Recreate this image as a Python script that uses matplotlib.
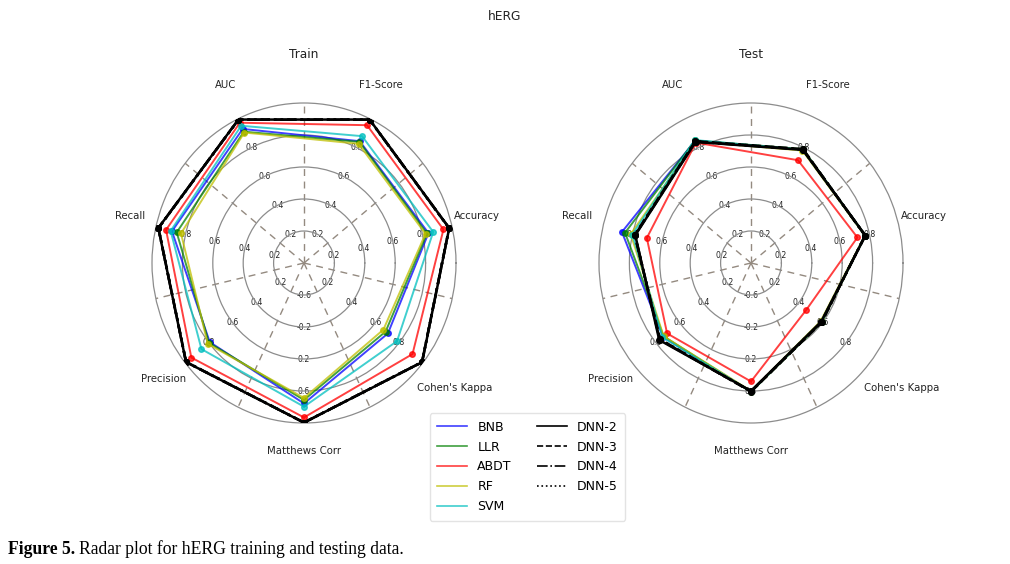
import numpy as np
import matplotlib
matplotlib.use("Agg")
import matplotlib.pyplot as plt

# ---------------- data ----------------
metrics = ["Matthews Corr", "Cohen's Kappa", "Accuracy", "F1-Score", "AUC", "Recall", "Precision"]
metric_min = [-1.0, 0.0, 0.0, 0.0, 0.0, 0.0, 0.0]
metric_max = [1.0, 1.0, 1.0, 1.0, 1.0, 1.0, 1.0]

models = ["BNB", "LLR", "ABDT", "RF", "SVM", "DNN-2", "DNN-3", "DNN-4", "DNN-5"]

# value order follows `metrics`
train_bnb = [0.756, 0.706, 0.840, 0.845, 0.930, 0.891, 0.793]
train_llr = [0.712, 0.687, 0.830, 0.840, 0.911, 0.859, 0.800]
train_abdt = [0.931, 0.913, 0.941, 0.956, 0.973, 0.931, 0.948]
train_rf = [0.687, 0.668, 0.820, 0.827, 0.905, 0.830, 0.810]
train_svm = [0.796, 0.783, 0.872, 0.880, 0.952, 0.900, 0.863]
train_dnn2 = [0.995, 0.994, 0.980, 0.995, 0.995, 0.983, 0.993]
train_dnn3 = [0.994, 0.993, 0.979, 0.994, 0.995, 0.982, 0.992]
train_dnn4 = [0.995, 0.993, 0.980, 0.994, 0.994, 0.983, 0.993]
train_dnn5 = [0.994, 0.994, 0.979, 0.995, 0.994, 0.982, 0.992]

test_bnb = [0.605, 0.590, 0.770, 0.785, 0.848, 0.871, 0.740]
test_llr = [0.612, 0.595, 0.772, 0.790, 0.850, 0.850, 0.735]
test_abdt = [0.481, 0.467, 0.718, 0.713, 0.835, 0.703, 0.706]
test_rf = [0.600, 0.585, 0.768, 0.780, 0.843, 0.812, 0.735]
test_svm = [0.605, 0.590, 0.770, 0.785, 0.853, 0.800, 0.745]
test_dnn2 = [0.600, 0.590, 0.772, 0.785, 0.840, 0.781, 0.772]
test_dnn3 = [0.608, 0.595, 0.770, 0.790, 0.845, 0.785, 0.765]
test_dnn4 = [0.603, 0.592, 0.771, 0.787, 0.842, 0.783, 0.768]
test_dnn5 = [0.606, 0.593, 0.770, 0.788, 0.844, 0.784, 0.766]

train_values = [train_bnb, train_llr, train_abdt, train_rf, train_svm,
                train_dnn2, train_dnn3, train_dnn4, train_dnn5]
test_values = [test_bnb, test_llr, test_abdt, test_rf, test_svm,
               test_dnn2, test_dnn3, test_dnn4, test_dnn5]

# ---------------- style ----------------
colors = ["b", "g", "r", "y", "c", "k", "k", "k", "k"]
styles = ["-", "-", "-", "-", "-", "-", "--", "-.", ":"]
widths = [1.4, 1.4, 1.4, 1.4, 1.4, 1.8, 1.8, 1.8, 1.8]
alphas = [0.75, 0.75, 0.75, 0.75, 0.75, 1.0, 1.0, 1.0, 1.0]

n = len(metrics)
base_deg = (270.0 + np.arange(n) * 360.0 / n) % 360.0
theta = np.deg2rad(base_deg)
# name-label placement (angle nudge in degrees, radius in axis units)
name_dtheta = [0.0, 0.4, 1.6, 1.2, -0.9, -1.5, -0.4]
name_r = [1.175, 1.264, 1.175, 1.222, 1.225, 1.182, 1.172]
levels = [0.2, 0.4, 0.6, 0.8]

W, H = 1010, 564
fig = plt.figure(figsize=(W / 100, H / 100), dpi=100)
fig.patch.set_facecolor("white")

GRID = "#8c8c8c"
DASH = "#948a80"


def scale(v, i):
    return (v - metric_min[i]) / (metric_max[i] - metric_min[i])


def radar(cx, title, values):
    a, b, cy = 152, 160, 263
    ax = fig.add_axes([(cx - a) / W, (H - cy - b) / H, 2 * a / W, 2 * b / H], polar=True)
    ax.set_aspect("auto")
    ax.set_xticks(np.deg2rad((base_deg + 180.0) % 360.0))
    ax.set_xticklabels([])
    ax.set_yticks(levels)
    ax.set_yticklabels([])
    ax.tick_params(length=0)
    ax.xaxis.grid(True, linestyle=(0, (5, 4)), color=DASH, linewidth=1.0)
    ax.yaxis.grid(True, linestyle="-", color=GRID, linewidth=0.9)
    ax.spines["polar"].set_color(GRID)
    ax.spines["polar"].set_linewidth(0.9)

    # per-axis radial tick labels
    for i in range(n):
        for lv in levels:
            val = metric_min[i] + lv * (metric_max[i] - metric_min[i])
            ax.text(theta[i], lv, "{}".format(round(val, 2)), fontsize=5.6,
                    ha="center", va="center", color="#222222", zorder=1)
    # metric names
    for i in range(n):
        ax.text(np.deg2rad(base_deg[i] + name_dtheta[i]), name_r[i], metrics[i],
                fontsize=7.3, ha="center", va="center", color="#222222")

    for k, vals in enumerate(values):
        r = [scale(v, i) for i, v in enumerate(vals)]
        rr = np.r_[r, r[0]]
        tt = np.r_[theta, theta[0]]
        ax.plot(tt, rr, color=colors[k], linestyle=styles[k], linewidth=widths[k],
                alpha=alphas[k], label=models[k], zorder=3 + k * 0.1)
        ax.plot(theta, r, "o", color=colors[k], markersize=4, alpha=alphas[k],
                zorder=3 + k * 0.1)
    ax.set_xlim(0, 2 * np.pi)
    ax.set_ylim(0, 1)
    ax.text(0.5, 1 + (103 - 55) / 320, title, transform=ax.transAxes,
            ha="center", va="center", fontsize=8.7, color="#222222")
    return ax


ax1 = radar(304, "Train", train_values)
ax2 = radar(751, "Test", test_values)

fig.text(505 / W, 1 - 17 / H, "hERG", ha="center", va="center", fontsize=8.8, color="#222222")

handles, labels = ax1.get_legend_handles_labels()
leg = fig.legend(handles, labels, ncol=2, loc="center", bbox_to_anchor=(527.5 / W, 1 - 467 / H),
                 fontsize=9, frameon=True, handlelength=2.4, columnspacing=2.0,
                 labelspacing=0.55, borderpad=0.6)
leg.get_frame().set_edgecolor("#dddddd")
for line in leg.get_lines():
    line.set_linewidth(1.2)

t1 = fig.text(8 / W, 1 - 549 / H, "Figure 5.", fontsize=12.7, fontweight="bold",
              family="Liberation Serif", ha="left", va="center")
fig.canvas.draw()
bb = t1.get_window_extent()
fig.text((bb.x1 + 4) / W, 1 - 549 / H, "Radar plot for hERG training and testing data.",
         fontsize=12.7, family="Liberation Serif", ha="left", va="center")

fig.savefig("out.png", dpi=100, facecolor="white")
